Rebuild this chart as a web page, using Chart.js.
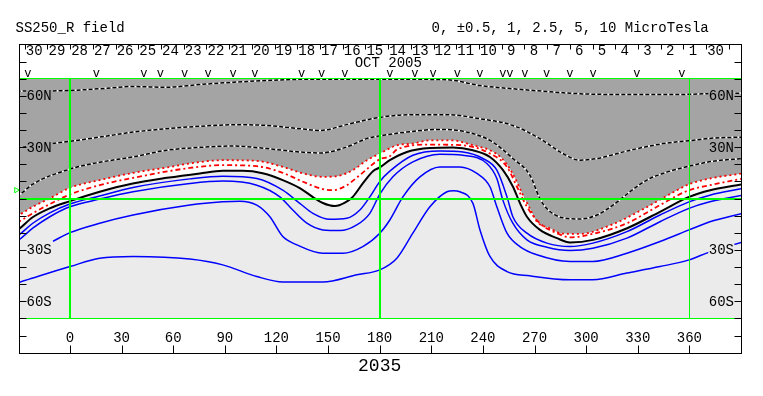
<!DOCTYPE html>
<html>
<head>
<meta charset="utf-8">
<script src="https://cdn.jsdelivr.net/npm/chart.js@4.4.0/dist/chart.umd.min.js"></script>
<style>
  html, body { margin: 0; padding: 0; background: #fff; }
  #wrap { position: relative; width: 763px; height: 396px; }
</style>
</head>
<body>
<div id="wrap"><canvas id="map"></canvas></div>
<script>
// Source surface field, Carrington rotation 2035

var titleText = 'SS250_R field';
var levelText = '0, \u00b10.5, 1, 2.5, 5, 10 MicroTesla';
var rotationLabel = '2035';
var monthLabel = 'OCT 2005';

var lonTicks = [0, 30, 60, 90, 120, 150, 180, 210, 240, 270, 300, 330, 360];
var latLabels = [60, 30, -30, -60];
var gridLon = [0, 180, 360];
var gridLat = [-70, 0, 70];

// days of the rotation, right to left
var dayLabels = ['30','29','28','27','26','25','24','23','22','21','20','19','18','17','16','15',
                 '14','13','12','11','10','9','8','7','6','5','4','3','2','1','30'];
var dayStartLon = -26.3;
var dayStepLon = 13.2;

// magnetogram times ("v" marks)
var obsLon = [-24.4, 15.4, 42.9, 52.6, 66.7, 80.3, 94.8, 107.4, 134.6, 146.2, 159.8, 185.9, 200.5,
              211.1, 225.1, 238.3, 251.6, 255.7, 264.4, 277.0, 290.6, 304.1, 329.4, 355.6];

var b0Marker = [[-31.2, 4.9]];

// contours [lon, lat]
var neutralLine = [[-31,-18.6],[-29.6,-17.7],[-21.7,-10.9],[-11.8,-5.7],[0,-1.5],[17.3,4.0],[36.5,8.8],
  [56.3,12.1],[75.5,14.7],[88.8,16.2],[100.4,16.2],[112,14.8],[123.7,10.8],[133.6,6.1],[141.2,0.9],
  [147,-2.6],[154,-4.4],[159.8,-2.4],[164.4,1.0],[170.3,9.0],[176.1,16.0],[180.1,18.2],[185.9,22.4],
  [195.8,27.2],[209.2,29.5],[222.6,29.8],[234.2,28.2],[244.1,24.3],[251.7,16.6],[257.5,6.9],
  [261.6,-2.8],[265.6,-10.6],[273.2,-18.3],[283.1,-23.1],[290.6,-25.6],[304,-24.1],[323.8,-17.3],
  [342.9,-7.7],[359.8,1.0],[372.1,4.9],[391,8.4]];

var neg05Outer = [[-31,-10.3],[-29.6,-9.6],[-21.6,-4.8],[-11.7,0.1],[0,6.3],[17.3,10.8],[36.7,15.0],
  [56.1,18.1],[69.7,20.5],[88.8,22.4],[108.6,22.0],[123.7,18.5],[135.5,14.7],[147,12.7],[155.1,13.1],
  [164.4,16.6],[172.6,22.4],[180.1,26.3],[190,31.1],[199.3,32.1],[209.2,34.0],[222,34.0],[234.2,31.1],
  [244.1,28.2],[251,23.5],[257.4,14.5],[263.3,2.0],[267.3,-5.7],[271.4,-13.5],[278.9,-17.3],
  [286,-20.4],[296.4,-20.6],[315,-15.2],[334,-5.7],[352.8,4.9],[359.8,8.4],[371.9,11.7],[391,14.7]];

var neg05Inner = [[-31,-14.3],[-29.6,-13.5],[-21.6,-8.6],[-11.7,-3.2],[0,2.4],[17.3,7.8],[36.7,12.1],
  [69.7,17.9],[88.8,19.5],[108.6,18.9],[123.7,15.0],[135.5,9.8],[147,5.5],[152.8,4.9],[160.9,7.8],
  [168.5,13.7],[180.1,23.0],[185.9,24.7],[190,28.6],[209.2,31.5],[228.4,31.1],[244.1,26.3],[254,18.5],
  [259.8,6.9],[265.6,-4.8],[273.1,-14.4],[283,-20.2],[290.6,-22.6],[303.9,-20.6],[323.7,-14.4],
  [342.9,-3.8],[359.8,4.9],[371.9,7.8],[391,11.7]];

var neg1 = [[-31,1.3],[-29.6,2.0],[-21.6,8.4],[0,17.2],[17.3,21.2],[36.7,24.3],[56.1,28.2],[75.5,29.9],
  [94.8,30.7],[114.2,29.2],[133.6,27.2],[145.2,26.6],[160.8,30.1],[172.4,35.0],[180.1,36.6],[195.6,38.8],
  [215,40.4],[230.5,38.8],[244.1,34.0],[257.4,23.4],[267.3,13.7],[273.1,0.1],[277,-5.7],[286.5,-11.2],
  [296.4,-11.9],[306.3,-9.6],[315.6,-3.8],[325.5,4.0],[335.3,10.8],[344.7,14.7],[359.8,18.9],
  [373.7,21.8],[391,23.4]];

var neg25 = [[-31,29.5],[-10.4,32.1],[0,33.4],[17.3,35.9],[36.7,38.8],[56.1,40.8],[75.5,42.2],[94.8,43.1],
  [114.2,42.7],[133.6,40.8],[145.2,39.8],[162.7,43.7],[180.1,47.4],[199.3,49.0],[218.9,49.0],[238.3,46.6],
  [257.4,42.7],[273.1,35.0],[286.5,26.3],[296.4,22.4],[306.3,23.4],[325.5,28.2],[344.7,32.1],
  [359.8,33.8],[373.7,35.3],[391,35.9]];

var neg5 = [[-31,62.7],[0,63.1],[17.3,64.1],[36.5,65.4],[56.1,65.0],[75.5,66.6],[94.8,67.9],[114.2,68.9],
  [133.6,69.6],[152.8,69.6],[180.1,69.6],[203.4,69.6],[219,69.4],[238.3,66.0],[257.4,64.1],[277.2,62.5],
  [296.4,61.2],[315.6,60.8],[354.5,60.8],[370.8,61.2],[391,61.6]];

var pos05 = [[-31,-22.0],[-29.6,-21.2],[-21.6,-14.4],[-11.7,-8.3],[0,-3.2],[17.3,1.5],[36.7,6.5],
  [69.7,11.5],[88.8,13.1],[108.6,11.7],[123.7,4.9],[133.6,-2.8],[141.2,-8.6],[151,-12.1],[160.9,-11.5],
  [168.5,-6.7],[174.3,1.0],[180.1,10.0],[185.9,16.0],[199.3,25.3],[215,27.8],[228.4,27.2],[240,23.4],
  [248.1,16.6],[254,1.0],[257.4,-10.6],[265.6,-20.2],[277.2,-26.0],[290.6,-28.0],[303.9,-26.0],
  [323.7,-19.3],[342.9,-9.6],[359.8,-1.9],[371.9,2.0],[391,5.9]];

var pos1 = [[-31,-25.0],[-29.6,-24.1],[-21.6,-17.3],[-11.7,-10.6],[0,-4.8],[17.3,-0.3],[36.7,4.0],
  [69.7,8.8],[88.8,10.2],[108.6,7.8],[122,1.0],[129.5,-6.7],[137.7,-14.4],[147,-18.3],[156.9,-18.7],
  [166.7,-15.4],[174.3,-8.6],[180.1,2.6],[187.7,12.7],[199.3,21.4],[215,25.9],[228.4,25.3],[242.3,20.5],
  [248.1,11.7],[251.6,-0.9],[257.4,-14.4],[265.6,-24.1],[277.2,-28.4],[290.6,-30.3],[303.9,-29.0],
  [323.7,-23.1],[342.9,-13.5],[359.8,-5.7],[371.9,-1.9],[391,2.0]];

var pos25 = [[-9.8,-24.9],[0,-19.9],[17.3,-14.4],[36.7,-9.6],[69.7,-3.8],[88.8,-1.9],[98.7,-1.5],
  [108.6,-3.8],[116.2,-10.6],[123.7,-22.2],[131.9,-27.0],[147,-31.9],[158.6,-31.9],[170.2,-28.0],
  [180.1,-20.2],[185.9,-12.5],[193.5,1.0],[203.4,12.7],[215,18.5],[226.6,18.5],[236.5,14.7],[244.1,6.9],
  [248.1,-4.8],[254,-20.2],[261.5,-28.0],[271.4,-32.8],[290.6,-36.7],[303.9,-36.7],[323.7,-31.9],
  [342.9,-25.1],[359.8,-18.3],[371.9,-13.5],[391,-8.6]];

var pos5 = [[-31,-49.8],[-29.6,-49.0],[-21.5,-46.4],[0,-39.7],[17.3,-34.8],[36.7,-33.8],[69.7,-35.3],
  [88.8,-38.7],[108.6,-45.5],[123.7,-48.7],[147,-48.7],[166.7,-44.5],[180.1,-41.6],[190,-34.8],
  [199.3,-20.2],[209.2,-4.8],[219.1,4.0],[222.8,4.6],[226.6,4.0],[234.2,-2.8],[238.3,-18.3],[244.1,-33.8],
  [254,-42.6],[267.3,-45.1],[290.6,-47.4],[303.9,-47.4],[323.7,-43.5],[342.9,-39.7],[359.8,-35.8],
  [371.9,-31.1],[391,-25.3]];

var darkGray = '#a4a4a4';
var lightGray = '#ebebeb';
var monoFont = '"Liberation Mono", "DejaVu Sans Mono", monospace';

function contour(data, color, width, dash, order) {
  return {
    data: data,
    showLine: true,
    borderColor: color,
    borderWidth: width,
    borderDash: dash || [],
    pointRadius: 0,
    fill: false,
    cubicInterpolationMode: 'monotone',
    order: order || 1
  };
}

// negative contours: black dashes on a white line
function dashed(data) {
  return [contour(data, '#ffffff', 1.5, [], 3), contour(data, '#000000', 1.5, [4, 2], 2)];
}

var outerRed = contour(neg05Outer, '#ff0000', 1.8, [2, 3], 1);
outerRed.fill = { target: { value: 70.1 } };
outerRed.backgroundColor = darkGray;

var blackLine = contour(neutralLine, '#000000', 2, [], 0);
blackLine.fill = { target: { value: -70.3 } };
blackLine.backgroundColor = lightGray;

var datasets = [
  blackLine,
  outerRed,
  contour(neg05Inner, '#ff0000', 1.8, [5, 3, 2, 3], 1),
  contour(pos05, '#0000ff', 1.5),
  contour(pos1, '#0000ff', 1.5),
  contour(pos25, '#0000ff', 1.5),
  contour(pos5, '#0000ff', 1.5)
].concat(dashed(neg1), dashed(neg25), dashed(neg5));

datasets.push({
  data: b0Marker,
  showLine: false,
  pointStyle: 'triangle',
  rotation: 90,
  pointRadius: 3,
  borderColor: '#00ff00',
  backgroundColor: 'rgba(0,0,0,0)',
  borderWidth: 1,
  clip: false
});

var mapFrame = {
  id: 'mapFrame',
  afterDraw: function (chart) {
    var ctx = chart.ctx;
    var xs = chart.scales.x, ys = chart.scales.y;
    var L = Math.round(xs.left) + 0.5, R = Math.round(xs.right) + 0.5;
    var T = Math.round(ys.getPixelForValue(90)) + 0.5;
    var B = Math.round(ys.getPixelForValue(-90)) + 0.5;
    var px = function (v) { return Math.round(xs.getPixelForValue(v)) + 0.5; };
    var py = function (v) { return Math.round(ys.getPixelForValue(v)) + 0.5; };

    ctx.save();
    ctx.font = '14px ' + monoFont;
    ctx.lineWidth = 1;
    ctx.strokeStyle = '#000';

    // latitude labels, boxed over the contours
    latLabels.forEach(function (v) {
      var txt = Math.abs(v) + (v > 0 ? 'N' : 'S');
      var y = ys.getPixelForValue(v);
      var w = ctx.measureText(txt).width;
      ctx.fillStyle = v > 0 ? darkGray : lightGray;
      ctx.fillRect(L + 7, y - 6, w + 1, 12);
      ctx.fillRect(R - 8 - w, y - 6, w + 1, 12);
      ctx.fillStyle = '#000';
      ctx.textAlign = 'left';
      ctx.fillText(txt, L + 7, y + 4.5);
      ctx.textAlign = 'right';
      ctx.fillText(txt, R - 7.5, y + 4.5);
    });

    // frame
    ctx.strokeRect(L, T, R - L, B - T);

    ctx.beginPath();
    for (var lat = -80; lat <= 80; lat += 10) {
      ctx.moveTo(L, py(lat)); ctx.lineTo(L + 7, py(lat));
      ctx.moveTo(R - 7, py(lat)); ctx.lineTo(R, py(lat));
    }
    lonTicks.forEach(function (v) {
      ctx.moveTo(px(v), B); ctx.lineTo(px(v), B - 8);
    });
    for (var k = 0; k <= dayLabels.length; k++) {
      var dx = px(dayStartLon + k * dayStepLon);
      ctx.moveTo(dx, T); ctx.lineTo(dx, T + 5);
    }
    ctx.stroke();

    ctx.fillStyle = '#000';
    ctx.textAlign = 'center';
    lonTicks.forEach(function (v) {
      ctx.fillText(String(v), xs.getPixelForValue(v), B - 11.5);
    });
    dayLabels.forEach(function (d, k) {
      var x = xs.getPixelForValue(dayStartLon + k * dayStepLon) + 9.5;
      ctx.fillText(d, x, T + 10);
    });
    ctx.fillText(monthLabel, xs.getPixelForValue(185), T + 22);

    ctx.font = '12px ' + monoFont;
    obsLon.forEach(function (v) {
      ctx.fillText('v', xs.getPixelForValue(v), T + 32);
    });

    ctx.font = '14px ' + monoFont;
    ctx.textAlign = 'left';
    ctx.fillText(titleText, 15.5, 31.5);
    ctx.fillText(levelText, 431.5, 31.5);

    ctx.font = '18px ' + monoFont;
    ctx.textAlign = 'center';
    ctx.fillText(rotationLabel, xs.getPixelForValue(180), 371);
    ctx.restore();
  }
};

new Chart(document.getElementById('map'), {
  type: 'scatter',
  data: { datasets: datasets },
  options: {
    responsive: true,
    maintainAspectRatio: false,
    animation: false,
    events: [],
    layout: { padding: { left: 19, right: 22, top: 78.5, bottom: 77 } },
    scales: {
      x: {
        type: 'linear', min: -29.6, max: 390,
        ticks: { display: false },
        border: { display: false },
        grid: {
          color: '#00ff00', drawTicks: false, z: 1,
          lineWidth: function (c) { return c.tick && c.tick.value === 360 ? 1 : 2; }
        },
        afterBuildTicks: function (s) { s.ticks = gridLon.map(function (v) { return { value: v }; }); }
      },
      y: {
        type: 'linear', min: -70.3, max: 70.1,
        ticks: { display: false },
        border: { display: false },
        grid: {
          color: '#00ff00', drawTicks: false, z: 1,
          lineWidth: function (c) { return c.tick && c.tick.value === 0 ? 2 : 1; }
        },
        afterBuildTicks: function (s) { s.ticks = gridLat.map(function (v) { return { value: v }; }); }
      }
    },
    plugins: {
      legend: { display: false },
      tooltip: { enabled: false },
      filler: { drawTime: 'beforeDraw' }
    }
  },
  plugins: [mapFrame]
});
</script>
</body>
</html>
